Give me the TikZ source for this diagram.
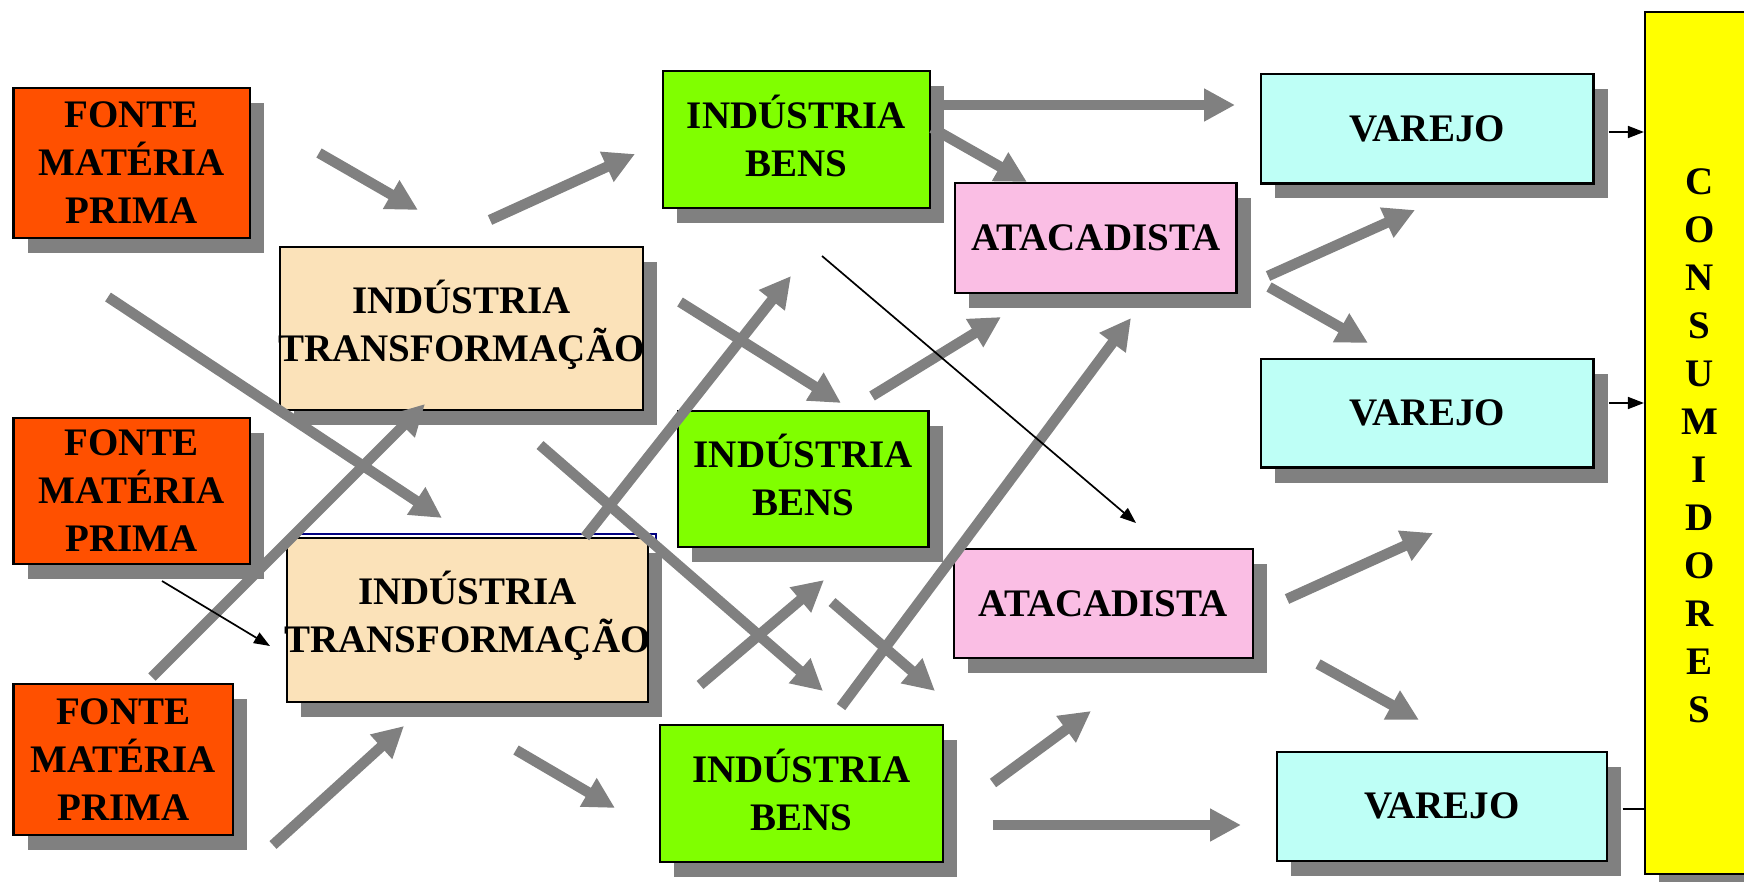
\documentclass[tikz,border=0pt]{standalone}
\usepackage{fontspec}
\setmainfont{Liberation Serif}
\usetikzlibrary{arrows.meta,shadows}
\definecolor{fonteC}{RGB}{255,80,0}
\definecolor{transfC}{RGB}{251,226,185}
\definecolor{bensC}{RGB}{128,255,0}
\definecolor{atacC}{RGB}{250,190,228}
\definecolor{varejoC}{RGB}{190,255,246}
\definecolor{consC}{RGB}{255,255,0}
\definecolor{shadowC}{RGB}{128,128,128}
\definecolor{navyC}{RGB}{0,0,128}
\newcommand\zw[1]{\makebox[0pt]{#1}}
\begin{document}
\begin{tikzpicture}[x=1pt,y=-1pt,
  boxfont/.style={font=\fontsize{39}{48}\selectfont\bfseries},
  box/.style={draw=black, line width=2.2pt, inner sep=0pt, align=center, boxfont,
    drop shadow={shadow xshift=14pt, shadow yshift=-15pt, fill=shadowC, opacity=1}},
  fonte/.style={box, fill=fonteC},
  transf/.style={box, fill=transfC},
  bens/.style={box, fill=bensC},
  atac/.style={box, fill=atacC},
  varejo/.style={box, fill=varejoC},
  flow/.style={draw=shadowC, line width=10.5pt, line cap=butt, -{Triangle[length=31pt,width=31pt]}},
  thinarrow/.style={draw=black, line width=1.7pt, -{Triangle[length=16pt,width=12pt]}},
  thinline/.style={draw=black, line width=1.7pt}]
\useasboundingbox (0,0) rectangle (1744,882);

% raw material sources
\node[fonte, minimum width=236.5pt, minimum height=150pt] (f1) at (131.75,163) {FONTE\\MAT\smash{É}RIA\\PRIMA};
\node[fonte, minimum width=236.5pt, minimum height=146pt] (f2) at (131.75,491) {FONTE\\MAT\smash{É}RIA\\PRIMA};
\node[fonte, minimum width=219.5pt, minimum height=151pt] (f3) at (123.25,759.5) {FONTE\\MAT\smash{É}RIA\\PRIMA};

% transformation industries
\node[transf, minimum width=363pt, minimum height=163pt] (t1) at (461.5,328.5) {\zw{IND\smash{Ú}STRIA}\\\zw{TRANSFORMAÇÃO}};
\node[transf, minimum width=361pt, minimum height=164pt] (t2) at (467.5,620) {\zw{IND\smash{Ú}STRIA}\\\zw{TRANSFORMAÇÃO}};
\draw[navyC, line width=2pt] ([shift={(14,-3)}]t2.north west) -- ([shift={(7,-3)}]t2.north east) -- ([shift={(7,10)}]t2.north east);

% goods industries
\node[bens, minimum width=267.4pt, minimum height=137pt] (b1) at (796.3,139.5) {IND\smash{Ú}STRIA\\BENS};
\node[bens, minimum width=250.5pt, minimum height=136pt] (b2) at (803.25,479) {IND\smash{Ú}STRIA\\BENS};
\node[bens, minimum width=283pt, minimum height=136.7pt] (b3) at (801.5,793.35) {IND\smash{Ú}STRIA\\BENS};

% wholesalers
\node[atac, minimum width=281.5pt, minimum height=110pt] (a1) at (1095.75,238) {ATACADISTA};
\node[atac, minimum width=299.3pt, minimum height=109.3pt] (a2) at (1103.35,603.35) {ATACADISTA};

% retailers
\node[varejo, minimum width=332.5pt, minimum height=109.5pt] (v1) at (1427.25,128.75) {VAREJO};
\node[varejo, minimum width=332.5pt, minimum height=108.5pt] (v2) at (1427.25,413.25) {VAREJO};
\node[varejo, minimum width=330.1pt, minimum height=108.6pt] (v3) at (1441.65,806.3) {VAREJO};

% consumers
\node[box, fill=consC, minimum width=114pt, minimum height=862pt] (cons) at (1702,443.25) {};
\node[inner sep=0pt, align=center, boxfont] (consl) at (1699.5,446) {C\\O\\N\\S\\U\\M\\I\\D\\O\\R\\E\\S};

% thick grey flow arrows
\foreach \n/\sx/\sy/\ex/\ey in {
  1/319/153/418/210, 2/490/220/635/154, 3/108/297/442/518, 4/152/677/425/404,
  6/273/845/404/726, 7/516/750/615/808, 8/585/537/791/276, 9/680/302/841/403,
  10/540/445/823/691, 11/841/707/1131/318, 12/872/396/1001/317, 13/932/128/1027/182,
  14/933/105/1235/105, 16/1268/276/1415/210, 17/1269/287/1368/343, 18/1287/599/1433/533,
  19/1318/664/1419/720, 20/993/783/1091/711, 21/993/825/1241/825, 22/700/685/824/580,
  23/832/602/935/691}{
  \coordinate (s\n) at (\sx,\sy);
  \coordinate (e\n) at (\ex,\ey);
  \draw[flow] (s\n) -- (e\n);
}

% thin black arrows
\coordinate (s5) at (162,581);
\coordinate (e5) at (270,646);
\draw[thinarrow] (s5) -- (e5);
\coordinate (s15) at (822,256);
\coordinate (e15) at (1136,523);
\draw[thinarrow] (s15) -- (e15);

% retail to consumers
\coordinate (c1) at (1608.5,132);
\coordinate (c2) at (1609,403);
\coordinate (c3) at (1622.7,809);
\draw[thinarrow] (c1) -- (c1 -| cons.west);
\draw[thinarrow] (c2) -- (c2 -| cons.west);
\draw[thinline] (c3) -- (c3 -| cons.west);
\end{tikzpicture}
\end{document}
